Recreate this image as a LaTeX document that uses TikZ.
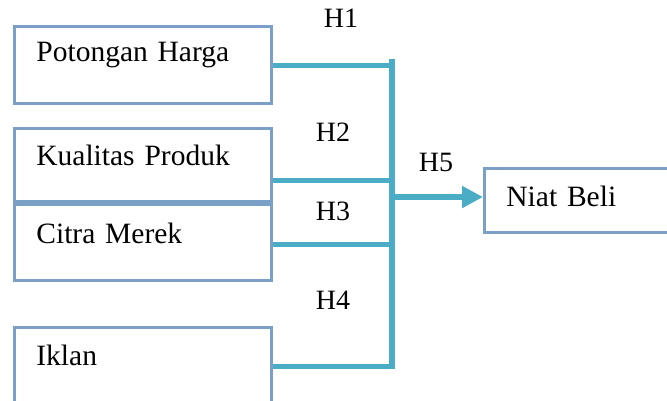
\documentclass[tikz,border=0pt]{standalone}
\usepackage{fontspec}
\setmainfont{Liberation Serif}
\usetikzlibrary{arrows.meta}

\definecolor{boxblue}{HTML}{7BA0C8}
\definecolor{linkteal}{HTML}{4BACC6}

\tikzset{
    var/.style={draw=boxblue, line width=2.8pt, anchor=north west, align=left,
        text width=213pt, inner xsep=22pt, inner ysep=0pt, font=\fontsize{29.5}{34}\selectfont},
    link/.style={draw=linkteal, line width=5.5pt},
    hlabel/.style={font=\fontsize{28}{33}\selectfont}
}

\begin{document}
\begin{tikzpicture}[x=1pt,y=-1pt]
    \useasboundingbox (0,0) rectangle (667,400);
    % variables
    \node[var, minimum height=77pt] (harga) at (13,25) {\raisebox{26pt}{Potongan Harga}};
    \node[var, minimum height=73pt] (kualitas) at (13,127) {\raisebox{20pt}{Kualitas Produk}};
    \node[var, minimum height=76pt] (citra) at (13,203) {\raisebox{19pt}{Citra Merek}};
    \node[var, minimum height=76pt] (iklan) at (13,326) {\raisebox{20pt}{Iklan}};
    \node[var, minimum height=64pt, text width=143pt] (niat) at (483,167) {\raisebox{9pt}{Niat Beli}};

    % collecting bar
    \coordinate (bartop) at (392,59);
    \coordinate (barbot) at (392,368);
    \draw[link, line width=6pt] (bartop) -- (barbot);

    % hypotheses
    \draw[link] ([yshift=-0.5pt]harga.east) -- +(122,0);
    \draw[link] ([yshift=-15.5pt]kualitas.east) -- +(122,0);
    \draw[link] ([yshift=-2pt]citra.east) -- +(122,0);
    \draw[link] ([yshift=-1pt]iklan.east) -- +(122,0);
    \coordinate (split) at (392,197);
    \draw[link, -{Triangle[length=21pt,width=21pt]}] (split) -- (split -| niat.west);

    % labels
    \node[hlabel] (h1) at (341,18) {H1};
    \node[hlabel] (h2) at (333,132) {H2};
    \node[hlabel] (h3) at (333,211) {H3};
    \node[hlabel] (h4) at (333,300) {H4};
    \node[hlabel] (h5) at (436,162) {H5};
\end{tikzpicture}
\end{document}
